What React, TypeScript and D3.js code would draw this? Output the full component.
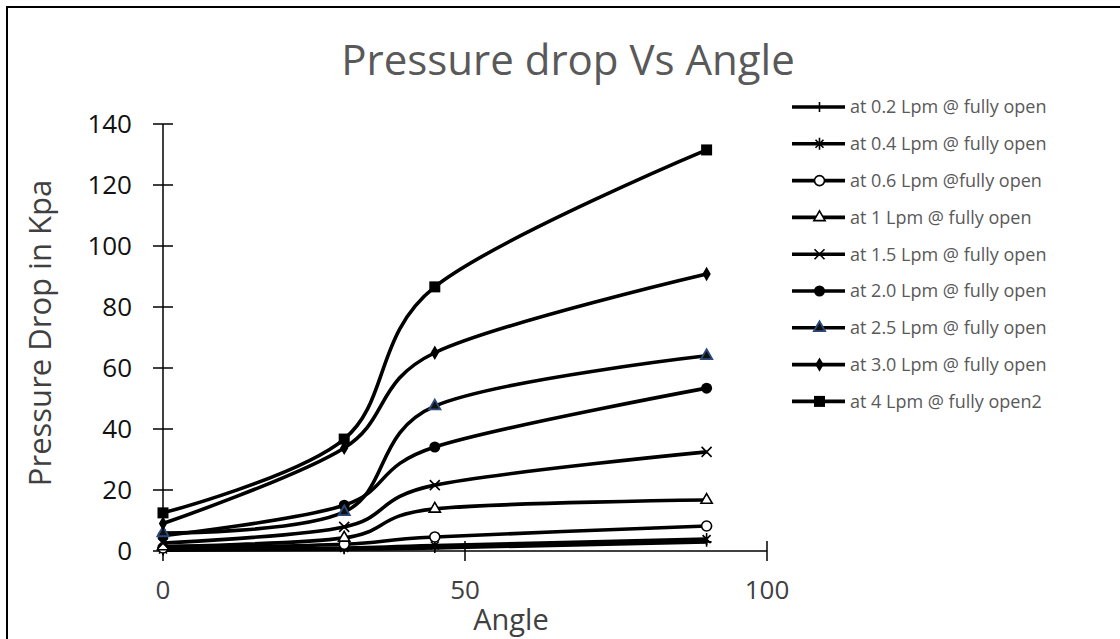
import React from "react";
import * as d3 from "d3";

// Angle of the valve (degrees) at which pressure drop was measured
const angles = [0, 30, 45, 90];

// Pressure drop (kPa) per flow rate
const flow02 = [0.3, 0.6, 1.0, 3.0];
const flow04 = [0.5, 1.0, 1.8, 3.9];
const flow06 = [1.0, 2.2, 4.6, 8.2];
const flow10 = [1.5, 4.3, 13.8, 16.7];
const flow15 = [2.6, 7.9, 21.6, 32.5];
const flow20 = [5.0, 15.0, 34.1, 53.4];
const flow25 = [5.9, 12.8, 47.5, 64.0];
const flow30 = [9.0, 33.8, 65.0, 90.8];
const flow40 = [12.5, 36.7, 86.6, 131.5];

const seriesNames = [
  "at 0.2 Lpm @ fully open",
  "at 0.4 Lpm @ fully open",
  "at 0.6 Lpm @fully open",
  "at 1 Lpm @ fully open",
  "at 1.5 Lpm @ fully open",
  "at 2.0 Lpm  @ fully open",
  "at 2.5 Lpm @ fully open",
  "at 3.0 Lpm @ fully open",
  "at 4 Lpm @ fully open2",
];
const seriesValues = [flow02, flow04, flow06, flow10, flow15, flow20, flow25, flow30, flow40];
type MarkerKind = "plus" | "asterisk" | "openCircle" | "openTriangle" | "x" | "dot" | "navyTriangle" | "diamond" | "square";
const seriesMarkers: MarkerKind[] = [
  "plus", "asterisk", "openCircle", "openTriangle", "x", "dot", "navyTriangle", "diamond", "square",
];

const xTicks = [0, 50, 100];
const yTicks = [0, 20, 40, 60, 80, 100, 120, 140];

const W = 1120;
const H = 639;
const FONT = "'Open Sans', 'Noto Sans', sans-serif";

const x = d3.scaleLinear().domain([0, 100]).range([163, 767]);
const y = d3.scaleLinear().domain([0, 140]).range([551, 124]);

const line = d3
  .line<number>()
  .x((_, i) => x(angles[i]))
  .y((v) => y(v))
  .curve(d3.curveCardinal.tension(0));

function Marker({ kind, cx, cy }: { kind: MarkerKind; cx: number; cy: number }) {
  const t = `translate(${cx},${cy})`;
  switch (kind) {
    case "plus":
      return <path transform={t} d="M-5,0H5M0,-5V5" stroke="#000" strokeWidth={1.6} fill="none" />;
    case "asterisk":
      return (
        <path transform={t} d="M-4,-4L4,4M-4,4L4,-4M0,-6V6" stroke="#000" strokeWidth={1.6} fill="none" />
      );
    case "openCircle":
      return <circle cx={cx} cy={cy} r={5} fill="#fff" stroke="#000" strokeWidth={1.6} />;
    case "openTriangle":
      return (
        <path transform={t} d={d3.symbol(d3.symbolTriangle, 55)()!} fill="#fff" stroke="#000" strokeWidth={1.6} />
      );
    case "x":
      return <path transform={t} d="M-5,-5L5,5M-5,5L5,-5" stroke="#000" strokeWidth={1.6} fill="none" />;
    case "dot":
      return <circle cx={cx} cy={cy} r={5.5} fill="#000" />;
    case "navyTriangle":
      return (
        <path transform={t} d={d3.symbol(d3.symbolTriangle, 55)()!} fill="#111" stroke="#2e4a7d" strokeWidth={1.8} />
      );
    case "diamond":
      return <path transform={t} d={d3.symbol(d3.symbolDiamond, 60)()!} fill="#000" />;
    case "square":
      return <rect x={cx - 5.5} y={cy - 5.5} width={11} height={11} fill="#000" />;
  }
}

export default function App() {
  const legendX0 = 792;
  const legendX1 = 845;
  const legendY0 = 107;
  const legendStep = 36.8;

  return (
    <svg
      width={W}
      height={H}
      style={{ position: "absolute", left: 0, top: 0, display: "block", background: "#fff" }}
    >
      <rect x={0} y={0} width={W} height={H} fill="#fff" />
      <rect x={7} y={7} width={W + 10} height={H + 10} fill="none" stroke="#000" strokeWidth={2} />

      <text x={568} y={75} textAnchor="middle" fontFamily={FONT} fontSize={42} fill="#595959">
        Pressure drop Vs Angle
      </text>

      {/* y axis */}
      <line x1={x(0)} x2={x(0)} y1={y(0)} y2={y(140)} stroke="#000" strokeWidth={1.5} />
      {yTicks.map((t) => (
        <g key={`y${t}`}>
          <line x1={x(0) - 10} x2={x(0) + 10} y1={y(t)} y2={y(t)} stroke="#000" strokeWidth={1.5} />
          <text
            x={132}
            y={y(t)}
            dy="0.35em"
            textAnchor="end"
            fontFamily={FONT}
            fontSize={26}
            fill="#111"
          >
            {t}
          </text>
        </g>
      ))}

      {/* x axis */}
      <line x1={x(0)} x2={x(100)} y1={y(0)} y2={y(0)} stroke="#000" strokeWidth={1.5} />
      {xTicks.map((t) => (
        <g key={`x${t}`}>
          <line x1={x(t)} x2={x(t)} y1={y(0) - 10} y2={y(0) + 10} stroke="#000" strokeWidth={1.5} />
          <text x={x(t)} y={599} textAnchor="middle" fontFamily={FONT} fontSize={26} fill="#404040">
            {t}
          </text>
        </g>
      ))}

      <text x={511} y={630} textAnchor="middle" fontFamily={FONT} fontSize={29} fill="#404040">
        Angle
      </text>
      <text
        transform="translate(51,333) rotate(-90)"
        textAnchor="middle"
        fontFamily={FONT}
        fontSize={31}
        fill="#404040"
      >
        Pressure Drop in Kpa
      </text>

      {/* series */}
      {seriesValues.map((vals, si) => (
        <g key={`s${si}`}>
          <path d={line(vals)!} fill="none" stroke="#000" strokeWidth={3.6} />
        </g>
      ))}
      {seriesValues.map((vals, si) => (
        <g key={`m${si}`}>
          {vals.map((v, i) => (
            <Marker key={i} kind={seriesMarkers[si]} cx={x(angles[i])} cy={y(v)} />
          ))}
        </g>
      ))}

      {/* legend */}
      {seriesNames.map((name, i) => {
        const ly = legendY0 + i * legendStep;
        return (
          <g key={`l${i}`}>
            <line x1={legendX0} x2={legendX1} y1={ly} y2={ly} stroke="#000" strokeWidth={3.6} />
            <Marker kind={seriesMarkers[i]} cx={(legendX0 + legendX1) / 2 + 1} cy={ly} />
            <text x={850} y={ly} dy="0.35em" fontFamily={FONT} fontSize={18} fill="#595959">
              {name}
            </text>
          </g>
        );
      })}
    </svg>
  );
}
